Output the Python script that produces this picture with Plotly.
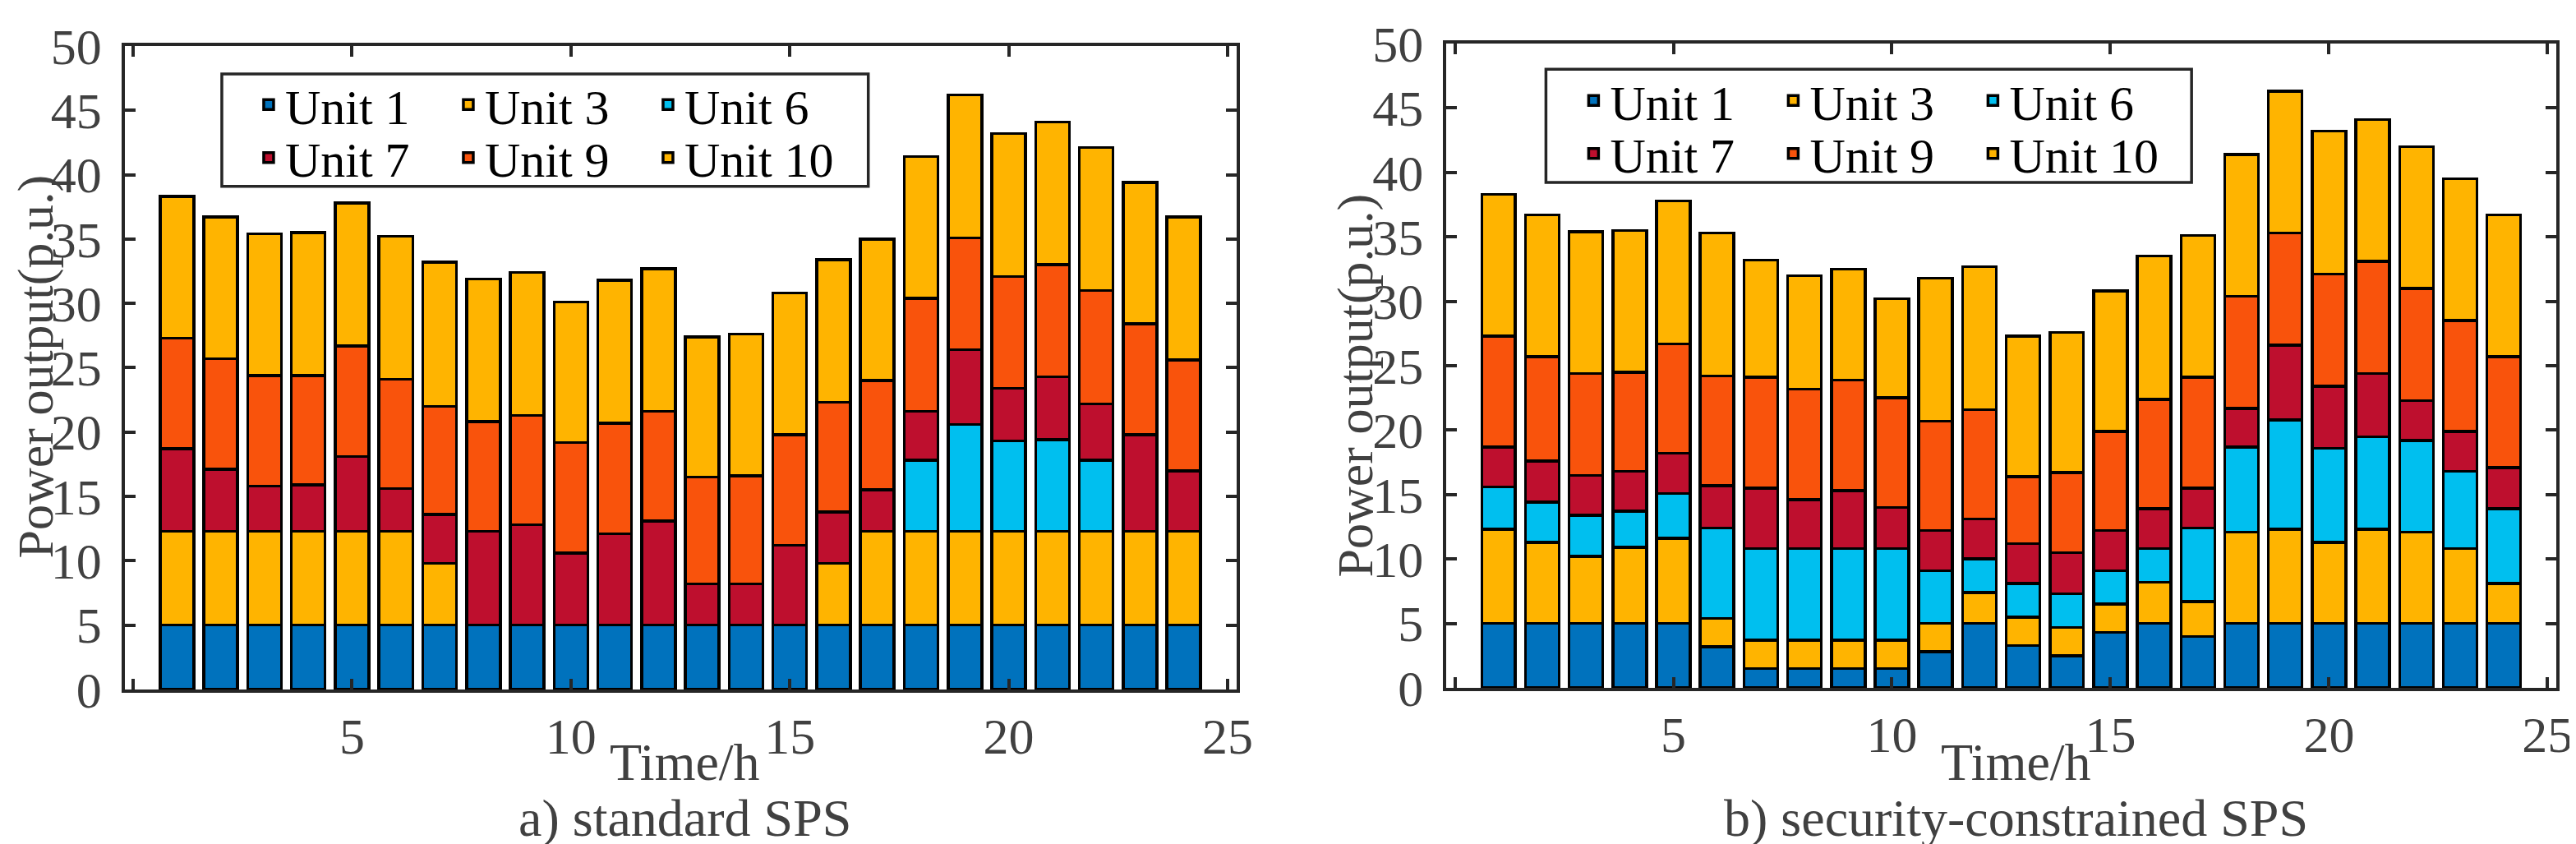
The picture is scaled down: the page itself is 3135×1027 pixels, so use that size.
import plotly.graph_objects as go

# hourly output of each unit (p.u.)
hours = list(range(1, 25))
units = ['Unit 1', 'Unit 3', 'Unit 6', 'Unit 7', 'Unit 9', 'Unit 10']
unit_colors = ['#0072BD', '#FFB400', '#00BFEF', '#BE0F2E', '#F9530C', '#FFB400']

# a) standard SPS
std_u1 = [5.0, 5.0, 5.0, 5.0, 5.0, 5.0, 5.0, 5.0, 5.0, 5.0, 5.0, 5.0,
          5.0, 5.0, 5.0, 5.0, 5.0, 5.0, 5.0, 5.0, 5.0, 5.0, 5.0, 5.0]
std_u3 = [7.3, 7.3, 7.3, 7.3, 7.3, 7.3, 4.8, 0, 0, 0, 0, 0,
          0, 0, 0, 4.8, 7.3, 7.3, 7.3, 7.3, 7.3, 7.3, 7.3, 7.3]
std_u6 = [0, 0, 0, 0, 0, 0, 0, 0, 0, 0, 0, 0,
          0, 0, 0, 0, 0, 5.5, 8.3, 7.0, 7.1, 5.5, 0, 0]
std_u7 = [6.4, 4.8, 3.5, 3.6, 5.8, 3.3, 3.8, 7.3, 7.8, 5.6, 7.1, 8.1,
          3.2, 3.2, 6.2, 4.0, 3.2, 3.8, 5.8, 4.1, 4.9, 4.4, 7.5, 4.7]
std_u9 = [8.6, 8.6, 8.6, 8.5, 8.6, 8.5, 8.4, 8.5, 8.5, 8.6, 8.6, 8.5,
          8.3, 8.4, 8.6, 8.5, 8.5, 8.8, 8.7, 8.7, 8.7, 8.8, 8.6, 8.6]
std_u10 = [11.0, 11.0, 11.0, 11.1, 11.1, 11.1, 11.2, 11.1, 11.1, 10.9, 11.1, 11.1,
           10.9, 11.0, 11.0, 11.1, 11.0, 11.0, 11.1, 11.1, 11.1, 11.1, 11.0, 11.1]

# b) security-constrained SPS
sec_u1 = [5.0, 5.0, 5.0, 5.0, 5.0, 3.2, 1.5, 1.5, 1.5, 1.5, 2.8, 5.0,
          3.3, 2.5, 4.3, 5.0, 4.0, 5.0, 5.0, 5.0, 5.0, 5.0, 5.0, 5.0]
sec_u3 = [7.3, 6.3, 5.2, 5.9, 6.6, 2.2, 2.2, 2.2, 2.2, 2.2, 2.2, 2.4,
          2.2, 2.2, 2.2, 3.2, 2.7, 7.1, 7.3, 6.3, 7.3, 7.1, 5.8, 3.1]
sec_u6 = [3.3, 3.1, 3.2, 2.8, 3.5, 7.0, 7.1, 7.1, 7.1, 7.1, 4.1, 2.6,
          2.6, 2.6, 2.6, 2.6, 5.7, 6.6, 8.5, 7.3, 7.2, 7.1, 6.0, 5.8]
sec_u7 = [3.1, 3.2, 3.1, 3.1, 3.1, 3.3, 4.7, 3.8, 4.5, 3.2, 3.1, 3.1,
          3.1, 3.2, 3.1, 3.1, 3.1, 3.0, 5.8, 4.8, 4.9, 3.1, 3.1, 3.2]
sec_u9 = [8.6, 8.1, 7.9, 7.7, 8.5, 8.5, 8.6, 8.6, 8.6, 8.5, 8.5, 8.5,
          5.2, 6.2, 7.7, 8.5, 8.6, 8.7, 8.7, 8.7, 8.7, 8.7, 8.6, 8.6]
sec_u10 = [11.0, 11.0, 11.0, 11.0, 11.1, 11.1, 9.1, 8.8, 8.6, 7.7, 11.1, 11.1,
           10.9, 10.9, 10.9, 11.1, 11.0, 11.0, 11.0, 11.1, 11.0, 11.0, 11.0, 11.0]

x_ticks = [0, 5, 10, 15, 20, 25]
x_ticktext = ['', '5', '10', '15', '20', '25']
y_ticks = [0, 5, 10, 15, 20, 25, 30, 35, 40, 45, 50]

panels = [
    dict(data=[std_u1, std_u3, std_u6, std_u7, std_u9, std_u10],
         sub='a) standard SPS', legends=['legend', 'legend2']),
    dict(data=[sec_u1, sec_u3, sec_u6, sec_u7, sec_u9, sec_u10],
         sub='b) security-constrained SPS', legends=['legend3', 'legend4']),
]

# page geometry in pixels
W, H = 3135, 1027
ML, MR, MT, MB = 144, 31, 26, 196
PW = W - ML - MR
PH = H - MT - MB


def px(x):
    return (x - ML) / PW


def py(y):
    return (H - MB - y) / PH


FONT = 'Liberation Serif'
GRAY = '#404040'
LINE = '#262626'

fig = go.Figure()

for i, p in enumerate(panels):
    xa = 'x' if i == 0 else 'x2'
    ya = 'y' if i == 0 else 'y2'
    for k, (name, col, vals) in enumerate(zip(units, unit_colors, p['data'])):
        fig.add_trace(go.Bar(
            x=hours, y=vals, name=name, xaxis=xa, yaxis=ya,
            width=0.77,
            marker=dict(color=col, line=dict(color='black', width=3.5)),
            legend=p['legends'][0] if k < 3 else p['legends'][1],
        ))

axis_common = dict(
    showline=True, linewidth=3.5, linecolor=LINE, mirror='ticks',
    ticks='inside', ticklen=13, tickwidth=3.5, tickcolor=LINE,
    showgrid=False, zeroline=False, ticklabeloverflow='allow',
    tickfont=dict(family=FONT, size=62, color=GRAY),
)

fig.update_layout(
    width=W, height=H,
    margin=dict(l=ML, r=MR, t=MT, b=MB),
    plot_bgcolor='white', paper_bgcolor='white',
    barmode='stack',
    font=dict(family=FONT, size=62, color=GRAY),
    xaxis=dict(domain=[px(144), px(1497)], range=[-0.19, 25.2],
               tickvals=x_ticks, ticktext=x_ticktext, ticklabelstandoff=0,
               anchor='y', **axis_common),
    yaxis=dict(domain=[py(831), py(29)], range=[0, 50], tickvals=y_ticks,
               ticklabelstandoff=12, anchor='x', **axis_common),
    xaxis2=dict(domain=[px(1753), px(3104)], range=[-0.19, 25.2],
                tickvals=x_ticks, ticktext=x_ticktext, ticklabelstandoff=0,
                anchor='y2', **axis_common),
    yaxis2=dict(domain=[py(829), py(26)], range=[0, 50], tickvals=y_ticks,
                ticklabelstandoff=12, anchor='x2', **axis_common),
)

legend_style = dict(orientation='h', xanchor='left', yanchor='middle',
                    bgcolor='rgba(0,0,0,0)', borderwidth=0,
                    font=dict(family=FONT, size=60, color='black'),
                    entrywidth=198, entrywidthmode='pixels', itemwidth=30,
                    traceorder='normal')
fig.update_layout(
    legend=dict(x=px(299), y=py(102), **legend_style),
    legend2=dict(x=px(299), y=py(168), **legend_style),
    legend3=dict(x=px(1912), y=py(97), **legend_style),
    legend4=dict(x=px(1912), y=py(163), **legend_style),
)

# legend frames
for x0, x1, y0, y1 in [(262, 1049, 64, 204), (1874, 2660, 58, 199)]:
    fig.add_shape(type='rect', xref='paper', yref='paper',
                  x0=px(x0), x1=px(x1), y0=py(y1), y1=py(y0),
                  line=dict(color=LINE, width=3.5), layer='above')

# axis titles and panel captions
for cx, tx, tyy, sub in [(826, 35, 429, panels[0]['sub']),
                         (2446, 1642, 452, panels[1]['sub'])]:
    fig.add_annotation(text='Time/h', x=px(cx), y=py(922), xref='paper', yref='paper',
                       xanchor='center', yanchor='middle', showarrow=False,
                       font=dict(family=FONT, size=64, color=GRAY))
    fig.add_annotation(text=sub, x=px(cx), y=py(991), xref='paper', yref='paper',
                       xanchor='center', yanchor='middle', showarrow=False,
                       font=dict(family=FONT, size=64, color=GRAY))
    fig.add_annotation(text='Power output(p.u.)', x=px(tx), y=py(tyy),
                       xref='paper', yref='paper', textangle=-90,
                       xanchor='center', yanchor='middle', showarrow=False,
                       font=dict(family=FONT, size=62, color=GRAY))

fig.write_html('out.html')
